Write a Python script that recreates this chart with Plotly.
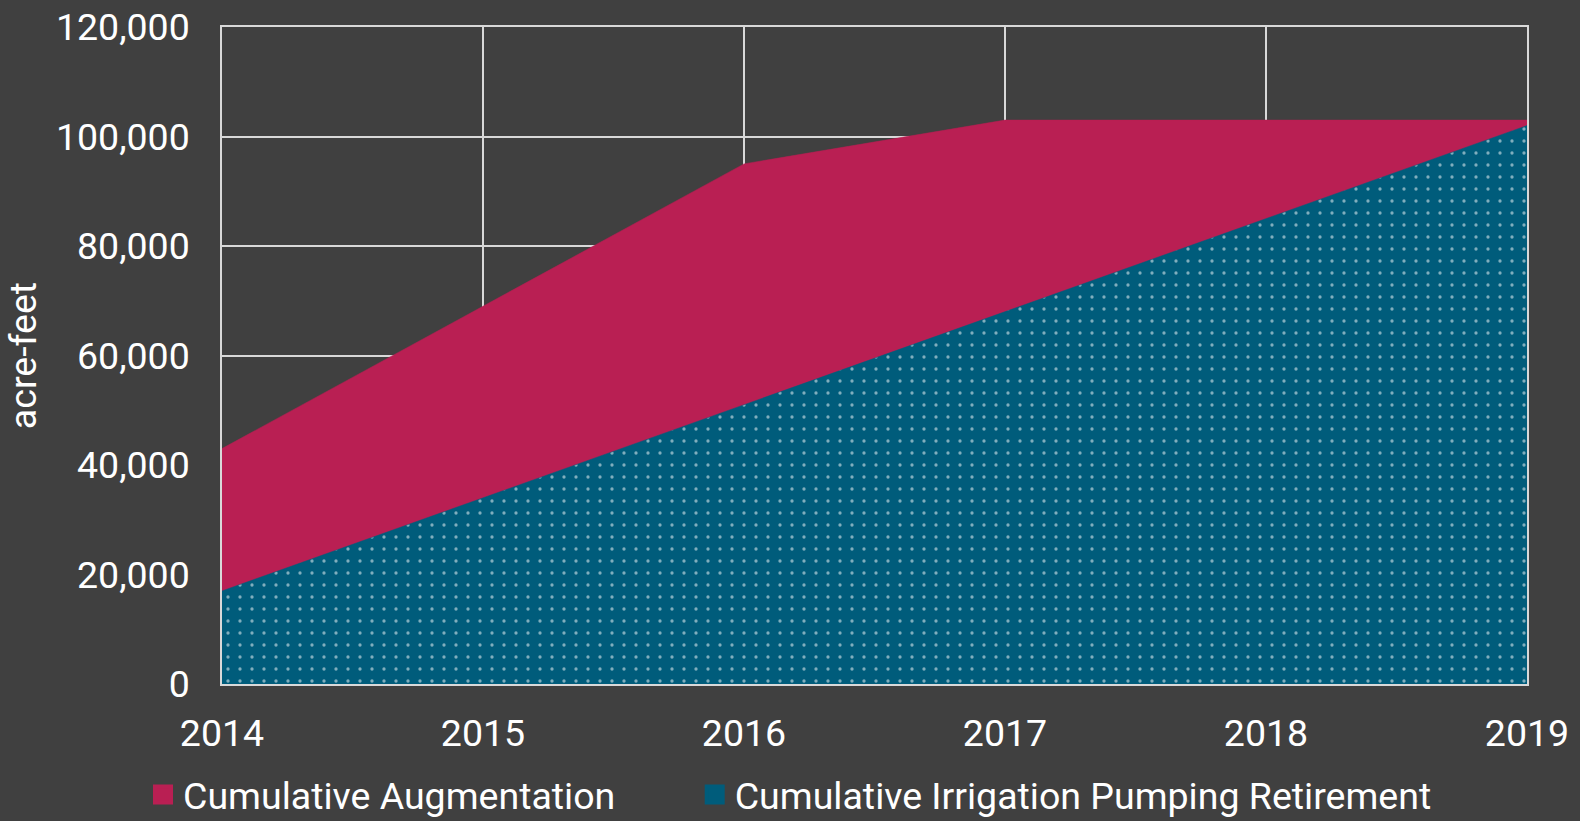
import plotly.graph_objects as go

years = [2014, 2015, 2016, 2017, 2018, 2019]
augmentation = [43000, 69000, 95000, 103000, 103000, 103000]
retirement = [17000, 34000, 51000, 68000, 85000, 102000]
y_ticks = [0, 20000, 40000, 60000, 80000, 100000, 120000]
y_ticktext = ["0", "20,000", "40,000", "60,000", "80,000", "100,000", "120,000"]
series_names = ["Cumulative Augmentation", "Cumulative Irrigation Pumping Retirement"]

BG = "#404040"
CRIMSON = "#B91F53"
TEAL = "#005C7B"
GRID = "#D9D9D9"
FS = 37.5

fig = go.Figure()
fig.add_trace(go.Scatter(
    x=years, y=augmentation, name=series_names[0], showlegend=False,
    mode="lines", line=dict(color=CRIMSON, width=0.5),
    fill="tozeroy", fillcolor=CRIMSON,
))
fig.add_trace(go.Scatter(
    x=years, y=retirement, name=series_names[1], showlegend=False,
    mode="lines", line=dict(color=TEAL, width=0.5),
    fill="tozeroy", fillcolor=TEAL,
    fillpattern=dict(shape=".", fgcolor="white", bgcolor=TEAL, size=12, solidity=0.06),
))
# legend entries (square swatches)
pad = "\u00a0" * 8
for i, (nm, col) in enumerate(zip(series_names, [CRIMSON, TEAL])):
    fig.add_trace(go.Scatter(
        x=[None], y=[None], name=nm + (pad if i == 0 else ""), mode="markers",
        marker=dict(symbol="square", size=16, color=col, line=dict(color=col, width=4)),
    ))

fig.update_layout(
    width=1580, height=821,
    paper_bgcolor=BG, plot_bgcolor=BG,
    margin=dict(l=222, r=53, t=27, b=137, autoexpand=False),
    font=dict(family="Roboto", size=FS, color="white"),
    showlegend=True,
    legend=dict(orientation="h", xref="container", x=0.5, xanchor="center",
                yref="container", y=0.032, yanchor="middle",
                font=dict(size=FS, color="white"), bgcolor="rgba(0,0,0,0)",
                itemwidth=30, traceorder="normal"),
    xaxis=dict(range=[2014, 2019], tickvals=years, ticktext=[str(y) for y in years],
               showgrid=True, gridcolor=GRID, gridwidth=1.5, automargin=False,
               showline=True, linecolor=GRID, linewidth=1.5, mirror=True,
               zeroline=False, ticks="", ticklabelstandoff=15,
               tickfont=dict(size=FS, color="white")),
    yaxis=dict(range=[0, 120000], tickvals=y_ticks, ticktext=y_ticktext,
               showgrid=True, gridcolor=GRID, gridwidth=1.5, automargin=False,
               showline=True, linecolor=GRID, linewidth=1.5, mirror=True,
               zeroline=False, ticks="", ticklabelstandoff=23,
               title=dict(text="acre-feet", font=dict(size=FS, color="white"), standoff=8),
               tickfont=dict(size=FS, color="white")),
)

fig.write_html("out.html", config={"displayModeBar": False},
               post_script="document.body.style.margin='0';document.body.style.overflow='hidden';")
